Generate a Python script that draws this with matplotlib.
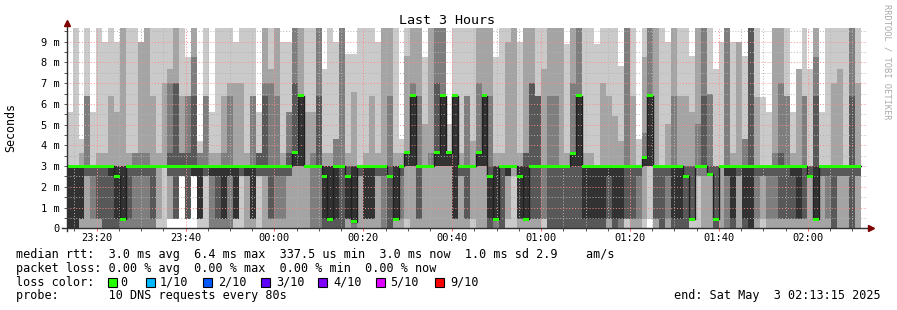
import matplotlib
matplotlib.use('Agg')
import matplotlib.pyplot as plt
import numpy as np
from matplotlib.lines import Line2D
from matplotlib.patches import Rectangle

# ---------------- data (ms) ----------------
# 10 sorted DNS ping times per 80 s step (134 steps), values above the axis are off-scale
ping1 = [0,0,0,0,0,0,0,0,0,0, 0,0,0,0,0,0,0,.44,.44,2.5, .44,2.5,0,0,0,0,0,0,0,0,
         0,0,0,0,0,0,0,0,0,0, 0,0,0,0,0,0,0,0,0,0, 0,0,0,0,0,0,0,0,0,0,
         0,0,0,0,0,0,0,0,0,0, 0,0,0,0,0,0,0,0,0,0, 0,0,0,0,0,0,0,0,0,0,
         0,0,0,0,0,0,0,0,.44,0, 0,0,0,0,0,0,0,0,0,0, 0,0,0,0,0,0,0,0,0,0,
         0,0,0,0,0,0,0,0,0,0, 0,0,0,0]
ping2 = [0,0,0,0,0,0,0,0,0,0, 0,0,0,0,0,.44,3,.44,.44,2.5, .44,2.5,.44,2.5,0,0,0,0,.44,2.5,
         0,0,2.5,0,0,0,0,0,0,0, 0,0,0,0,0,0,0,0,0,0, 0,0,0,0,0,0,0,.44,0,0,
         0,0,0,0,0,0,0,0,.44,0, 0,0,0,0,.44,2.5,0,0,0,0, .44,0,0,0,0,0,0,0,0,0,
         0,0,0,0,.44,0,0,.44,3,0, 0,0,0,0,0,.44,2.5,0,0,0, 0,0,0,0,0,0,0,.44,0,0,
         0,0,0,0,0,0,0,0,0,0, 0,0,0,0]
ping3 = [0,0,.44,2.5,.44,.44,0,0,0,0, 0,0,0,0,0,3,3,2.5,.44,2.5, .44,2.5,.44,2.5,0,0,0,0,.44,2.5,
         2.5,.44,2.5,2.5,.44,.44,.44,2.5,3,3, 3,0,0,0,0,0,0,.44,0,2.5, .44,.44,2.5,0,0,.44,.44,3,3,.44,
         3,3,3,3,3,.44,2.5,.44,3,3, 3,0,0,0,2.5,3,.44,.44,.44,.44, .44,0,0,0,0,0,0,0,0,0,
         0,.44,0,0,.44,.44,.44,3,3,.44, 0,.44,0,0,0,.44,2.5,2.5,2.5,0, 3,0,0,2.5,0,0,.44,2.5,.44,.44,
         .44,.44,.44,.44,.44,2.5,.44,2.5,.44,0, 2.5,2.5,0,2.5]
ping4 = [0,0,.44,2.5,2.5,.44,0,0,0,.44, .44,2.5,2.5,2.5,.44,3,3,2.5,.44,2.5, .44,2.5,.44,2.5,2.5,.44,.44,2.5,.44,2.5,
         2.5,.44,2.5,2.5,.44,2.5,2.5,2.5,3,3, 3,3,3,0,0,0,0,.44,.32,2.5, .44,.44,2.5,2.5,0,.44,2.5,3,3,.44,
         3,3,3,3,3,.44,2.5,.44,3,3, 3,0,.44,0,2.5,3,.44,.44,.44,.44, 3,0,0,0,0,0,0,0,0,0,
         0,.44,0,.44,.44,.44,2.5,3,3,.44, 0,2.5,0,0,0,.44,3,3,2.5,0, 3,2.5,0,2.5,0,0,2.5,2.5,2.5,2.5,
         .44,.44,.44,.44,.44,2.5,.44,2.5,2.5,0, 2.5,2.5,0,2.5]
ping5 = [0,0,.44,3,3,3,3,2.5,.44,.44, 3,3,3,3,3,3,3,3,3,3, 3,2.5,.44,3,2.5,2.5,.44,2.5,.44,3,
         2.5,.44,3,3,3,3,3,3,3,3, 3,3,3,.44,.44,.44,3,.44,.32,3, .44,.44,3,3,3,.44,3,3,3,3,
         3,3,3,3,3,.44,3,3,3,3, 3,.44,.44,3,2.5,3,.44,.44,3,3, 3,3,3,3,3,3,3,.44,.44,.44,
         .44,2.5,.44,.44,3,3,3,3,3,3, 3,3,.44,.44,3,3,3,3,3,3, 3,2.5,.44,3,.44,0,3,3,3,3,
         3,3,2.5,.44,3,3,.44,3,3,3, 3,3,3,3]
ping6 = [3,3,3,3,3,3,3,3,3,3, 3,3,3,3,3,3,3,3,3,3, 3,3,3,3,3,3,3,3,3,3,
         3,3,3,3,3,3,3,3,3.65,6.4, 3,3,3,3,3,3,3,2.5,3,3, 3,3,3,3,3,3,3,3.65,6.4,3,
         3,3,3.65,6.4,3.65,6.4,3,3,3,3.65, 6.4,2.5,3,3,3,3,3,3,3,3, 3,3,3,3,3,3.65,6.4,3,3,3,
         3,3,3,3,3,3,3,3.42,6.4,3, 3,3,3,3,3,3,3,3,3,3, 3,3,3,3,3,3,3,3,3,3,
         3,3,3,3,3,3,3,3,3,3, 3,3,3,3]
ping7 = [3,3,3,3,3,3,3,3,3,3, 3,3,3,3,3,3,3,3.65,7,3.65, 3.65,6.4,3,3,3,3,3,3,3,3,
         3,3,3.65,6.4,3,3,3,3.65,7,6.4, 3,3,6.4,3,3,3,3,3,3,3, 3,3,3,3,3,3,3,3.65,6.4,3,
         3,3,7,6.4,3.65,6.4,3,3,3,3.65, 6.4,3,3,3,3,3,3,3.65,7,6.4, 3,3,3,3,3,3.65,6.4,3,3,3,
         3,3,3,3,3,3,3,3.42,6.4,3, 3,3,3,3,3,3,3,6.4,3,3, 3,3,3,3,3,11,3,3,3,3,
         3.65,3,3,3,3,3,6.4,3,3,3, 3,3,6.4,3]
ping8 = [3,3,3,6.4,3,3,3,3,3,3, 3,3.65,3.65,3.65,3,3,3,7,7,3.65, 6.4,8.26,3.65,6.4,3,3,3.65,6.4,3,3,
         3,6.4,3.65,7,7,6.4,3,5.6,11,6.4, 3,3.65,11,3,3,4.3,11,3,3,3, 3,3,3,3,6.4,3,3,3.65,7,6.4,
         3,3.65,11,11,3.65,6.4,3,6.4,3,7, 6.4,6.4,3,3,3,3,3,3.65,7,6.4, 3,6.4,6.4,3,3,7,11,3,3,3,
         3,3,3,3,11,3,3,4.61,11,3, 3,3,6.4,3,3,3,5.03,11,6.5,3, 3,11,3,3,4.3,11,3,3,3,3.65,
         7,6.4,3,3,6.4,3,8.26,3,3,3, 3,3,11,3]
ping9 = [3,3,3.65,6.4,3,3.65,3.65,6.4,5.6,11, 3.65,3.65,9,11,6.4,3.65,7,7.66,11,6.4, 6.4,11,3.65,6.4,3.65,3.65,6.4,7,7,7,
         3.65,6.4,3.65,11,7.66,11,3.65,5.6,11,11, 5.6,5.6,11,3.65,3.65,4.3,11,3.65,6.56,3, 3.65,6.4,3.65,11,11,3.65,3.65,8.32,11,11,
         5.03,11,11,11,3.65,6.4,3.65,6.4,4.23,11, 11,11,3.65,3.65,9,11,3.65,11,11,6.4, 7.66,11,11,11,3.65,11,11,3.65,3.65,3,
         7,6.4,5.44,4.23,11,6.4,3,8.26,11,11, 3,5.03,11,6.4,6.4,5.6,11,11,6.5,3, 3,11,3.65,9,4.3,11,6.32,3,3,11,
         11,6.4,3.65,7.66,6.4,3,11,3,3,7, 7.66,3,11,7]
ping10 = [5.6,11,4.3,11,5.6,11,9,11,9,11, 11,11,9,11,11,11,11,11,11,11, 8.26,11,4.23,11,5.6,11,11,11,9,11,
          11,11,5.6,11,11,11,9,9,11,11, 11,11,11,7.66,11,9,11,8.39,8.39,11, 11,11,9,11,11,11,4.3,11,11,11,
          8.26,11,11,11,5.03,11,11,11,11,11, 11,11,8.26,11,11,11,9,11,11,11, 11,11,11,11,8.87,11,11,11,11,8.87,
          11,11,11,7.85,11,11,4.3,11,11,11, 11,9,11,11,11,8.32,11,11,11,7.66, 9,11,9,9,8.32,11,11,6.32,5.6,11,
          11,11,5.6,7.66,11,7.66,11,5.6,11,11, 11,11,11,11]
median = [3,3,3,3,3,3,3,3,2.5,0.44, 3,3,3,3,3,3,3,3,3,3, 3,3,3,3,3,3,3,3,3,3,
          3,3,3,3,3,3,3,3,3.65,6.4, 3,3,3,2.5,0.44,3,3,2.5,0.32,3, 3,3,3,3,2.5,0.44,3,3.65,6.4,3,
          3,3,3.65,6.4,3.65,6.4,3,3,3,3.65, 6.4,2.5,0.44,3,3,3,2.5,0.44,3,3, 3,3,3,3,3,3.6,6.4,3,3,3,
          3,3,3,3,3,3,3,3.4,6.4,3, 3,3,3,3,2.5,0.44,3,3,2.6,0.44, 3,3,3,3,3,3,3,3,3,3,
          3,3,3,3,3,2.5,0.44,3,3,3, 3,3,3,3]

x_tick_labels = ["23:20", "23:40", "00:00", "00:20", "00:40", "01:00", "01:20", "01:40", "02:00"]
y_tick_labels = ["0", "1 m", "2 m", "3 m", "4 m", "5 m", "6 m", "7 m", "8 m", "9 m"]
loss_labels = ["0", "1/10", "2/10", "3/10", "4/10", "5/10", "9/10"]
loss_colors = ["#26ff00", "#00b8ff", "#0059ff", "#5e00ff", "#7e00ff", "#dd00ff", "#ff0000"]

# ---------------- layout ----------------
W, H = 897, 310
fig = plt.figure(figsize=(W / 100, H / 100), dpi=100)
fig.patch.set_facecolor('white')
MONO = 'DejaVu Sans Mono'
FS = 8.5


def fx(px):
    return px / W


def fy(py):
    return 1 - py / H


X0, X1 = 66.7, 866.7
Y0, Y1 = 228.3, 28.0
ax = fig.add_axes([fx(X0), fy(Y0), (X1 - X0) / W, (Y0 - Y1) / H])
ax.set_facecolor('white')
ax.set_xlim(0, 180)
ax.set_ylim(0, 9.66)

step = 80 / 60.0
n = len(median)
x = np.arange(n) * step
pings = np.array([ping1, ping2, ping3, ping4, ping5, ping6, ping7, ping8, ping9, ping10], dtype=float)
smoke = ['#cacaca', '#a4a4a4', '#7e7e7e', '#585858', '#323232']
for i in range(5):
    lo = pings[i]
    hi = pings[9 - i]
    ax.bar(x, hi - lo, bottom=lo, width=step, align='edge', color=smoke[i],
           linewidth=0, antialiased=False, zorder=1)

med = np.array(median, dtype=float)
ax.step(np.append(x, x[-1] + step), np.append(med, med[-1]), where='post',
        color='#202020', lw=1.0, zorder=3)
sw = 0.07
ax.bar(x, 2 * sw, bottom=med - sw, width=step, align='edge', color=loss_colors[0],
       linewidth=0, antialiased=False, zorder=4)

# grid
major_x = 6.75 + 20 * np.arange(9)
minor_x = 1.75 + 5 * np.arange(36)
ax.set_xticks(major_x)
ax.set_xticklabels(x_tick_labels)
ax.set_xticks(minor_x, minor=True)
ax.set_yticks(np.arange(10))
ax.set_yticklabels(y_tick_labels)
ax.set_yticks(np.arange(0.5, 9.6, 1.0), minor=True)
ax.set_axisbelow(False)
ax.grid(which='minor', color='#b4b4b4', linestyle=(0, (1, 2)), lw=0.7, zorder=2)
ax.grid(which='major', color='#ff8a8a', linestyle=(0, (1, 2)), lw=0.7, zorder=2)
for s in ax.spines.values():
    s.set_visible(False)
ax.tick_params(which='both', direction='out', length=2, width=0.7, color='#555555',
               labelsize=7.5)
ax.tick_params(axis='x', which='major', color='#ff6060', pad=1.5)
ax.tick_params(axis='y', which='major', pad=3)
for lab in ax.get_xticklabels() + ax.get_yticklabels():
    lab.set_family(MONO)
    lab.set_color('#000000')

# axis lines with arrows
fig.add_artist(Line2D([fx(X0), fx(X0)], [fy(Y0 + 3), fy(22)], color='#303030', lw=1))
fig.add_artist(Line2D([fx(62), fx(869)], [fy(Y0), fy(Y0)], color='#303030', lw=1))
fig.add_artist(Line2D([fx(X0)], [fy(23)], marker='^', markersize=4.5, color='#7f0000', lw=0))
fig.add_artist(Line2D([fx(871)], [fy(Y0)], marker='>', markersize=4.5, color='#7f0000', lw=0))

# texts
fig.text(fx(447), fy(20), "Last 3 Hours", family=MONO, fontsize=9.6, ha='center', va='center')
fig.text(fx(11), fy(127), "Seconds", family=MONO, fontsize=8.4, rotation=90, ha='center', va='center')
fig.text(fx(887), fy(4), "RRDTOOL / TOBI OETIKER", family=MONO, fontsize=6.3, rotation=270,
         ha='center', va='top', color='#aaaaaa')

lx = 16
fig.text(fx(lx), fy(254.3), "median rtt:  3.0 ms avg  6.4 ms max  337.5 us min  3.0 ms now  1.0 ms sd 2.9    am/s",
         family=MONO, fontsize=FS, ha='left', va='center')
fig.text(fx(lx), fy(268.3), "packet loss: 0.00 % avg  0.00 % max  0.00 % min  0.00 % now",
         family=MONO, fontsize=FS, ha='left', va='center')
fig.text(fx(lx), fy(282.3), "loss color:", family=MONO, fontsize=FS, ha='left', va='center')
sq_x = [108, 146, 203, 261, 318, 376, 435]
lab_x = [120, 160, 218, 276, 333, 390, 450]
for sx, tx, lab, col in zip(sq_x, lab_x, loss_labels, loss_colors):
    fig.add_artist(Rectangle((fx(sx), fy(286.5)), 8.5 / W, 8.5 / H, facecolor=col,
                             edgecolor='#000000', lw=0.8))
    fig.text(fx(tx), fy(282.3), lab, family=MONO, fontsize=FS, ha='left', va='center')
fig.text(fx(lx), fy(296), "probe:       10 DNS requests every 80s", family=MONO, fontsize=FS,
         ha='left', va='center')
fig.text(fx(881), fy(296), "end: Sat May  3 02:13:15 2025", family=MONO, fontsize=FS,
         ha='right', va='center')

fig.savefig('out.png', dpi=100, facecolor='white')
